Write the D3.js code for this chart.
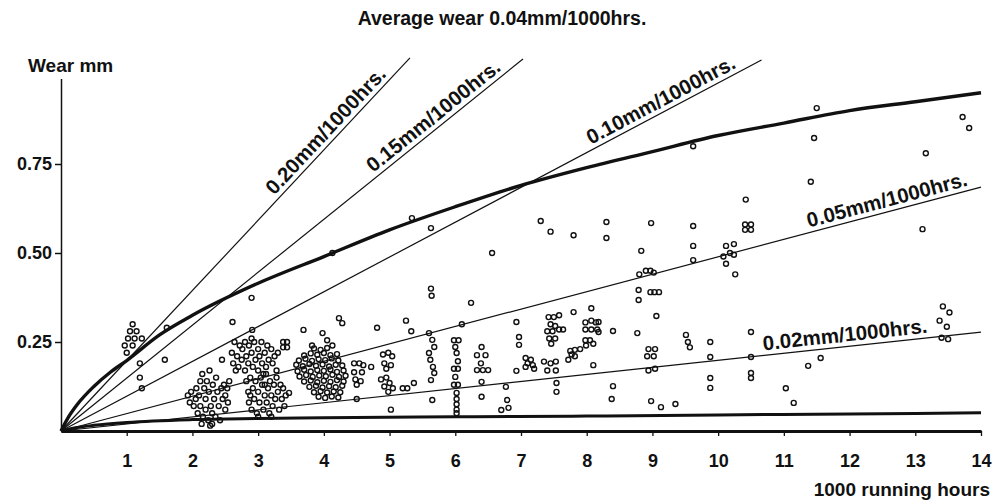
<!DOCTYPE html>
<html><head><meta charset="utf-8">
<script src="https://cdn.jsdelivr.net/npm/d3@7"></script>
<style>
html,body{margin:0;padding:0;background:#fff;}
text{font-family:"Liberation Sans",Arial,Helvetica,sans-serif;font-weight:bold;fill:#111;}
</style></head>
<body>
<script>
// ---------- data ----------
const titleText = "Average wear 0.04mm/1000hrs.";
const yAxisTitle = "Wear mm";
const xAxisTitle = "1000 running hours";
const xTicks = [1,2,3,4,5,6,7,8,9,10,11,12,13,14];
const yTicks = [0.25, 0.50, 0.75];
const yTickLabels = ["0.25", "0.50", "0.75"];

// reference wear-rate lines (from origin)
const rateLabels = ["0.20mm/1000hrs.","0.15mm/1000hrs.","0.10mm/1000hrs.","0.05mm/1000hrs.","0.02mm/1000hrs."];
const rateEndHours = [5.31, 7.03, 10.66, 14, 14];
const rateEndWear  = [1.048, 1.045, 1.042, 0.685, 0.278];
const rateLabelStartHours = [3.3, 4.8, 8.1, 11.4, 10.7];

// upper envelope (thick curve)
const upperHours = [0, 0.1, 0.25, 0.5, 0.75, 1, 1.5, 2, 3, 4, 5, 6, 7, 8, 9, 10, 11, 12, 13, 14];
const upperWear  = [0, 0.035, 0.075, 0.125, 0.165, 0.198, 0.27, 0.325, 0.415, 0.49, 0.565, 0.63, 0.69, 0.74, 0.785, 0.83, 0.865, 0.9, 0.925, 0.95];
// lower envelope (thick curve)
const lowerHours = [0, 0.25, 0.5, 1, 2, 3, 4, 6, 8, 10, 12, 14];
const lowerWear  = [0, 0.01, 0.016, 0.024, 0.032, 0.035, 0.037, 0.04, 0.042, 0.045, 0.048, 0.051];

// observed wear: [1000 running hours, wear mm]
const obsNear1000 = [[0.97,0.24],[1.09,0.30],[1.15,0.28],[1.23,0.26],[1.00,0.22],[1.12,0.26],[1.05,0.28],
  [1.20,0.19],[1.20,0.15],[1.23,0.12],[1.58,0.20],[1.61,0.29],[1.09,0.24],[1.02,0.26]];
const obsNear2000 = [[1.93,0.10],[1.96,0.08],[1.98,0.11],[2.02,0.07],[2.05,0.09],[2.06,0.12],[2.08,0.05],[2.1,0.10],
  [2.12,0.14],[2.12,0.07],[2.15,0.16],[2.16,0.04],[2.18,0.12],[2.2,0.09],[2.2,0.06],[2.22,0.14],[2.24,0.03],[2.25,0.11],
  [2.26,0.17],[2.28,0.07],[2.3,0.02],[2.3,0.05],[2.31,0.13],[2.33,0.09],[2.35,0.04],[2.36,0.15],[2.38,0.11],[2.4,0.07],
  [2.42,0.03],[2.44,0.12],[2.46,0.09],[2.48,0.13],[2.5,0.06],[2.5,0.10],[2.53,0.12],[2.54,0.08],[2.56,0.14],[2.45,0.20],
  [2.14,0.02],[2.27,0.015],[2.61,0.306],[2.9,0.374],[2.91,0.284]];
const obsNear3000 = [[2.6,0.22],[2.62,0.19],[2.64,0.25],[2.68,0.21],[2.7,0.18],[2.72,0.24],[2.75,0.20],[2.76,0.23],
  [2.8,0.17],[2.8,0.25],[2.82,0.21],[2.85,0.19],[2.86,0.24],[2.9,0.22],[2.92,0.18],[2.94,0.25],[2.96,0.20],[3.0,0.23],
  [3.0,0.17],[3.02,0.21],[3.05,0.25],[3.06,0.19],[3.1,0.22],[3.12,0.18],[3.14,0.24],[3.16,0.20],[3.2,0.23],[3.22,0.19],
  [3.25,0.21],[3.28,0.17],[2.66,0.17],[2.9,0.26],[3.08,0.16],[3.3,0.22],[3.38,0.25],[3.44,0.25],[3.38,0.235],[3.44,0.235],
  [2.82,0.14],[2.85,0.11],[2.86,0.08],[2.88,0.15],[2.9,0.06],[2.92,0.12],[2.94,0.09],[2.96,0.14],[2.98,0.05],[3.0,0.11],
  [3.02,0.08],[3.04,0.15],[3.06,0.13],[3.08,0.06],[3.1,0.10],[3.12,0.16],[3.13,0.08],[3.15,0.12],[3.17,0.05],[3.18,0.14],
  [3.2,0.10],[3.22,0.07],[3.24,0.13],[3.26,0.09],[3.28,0.15],[3.3,0.11],[3.32,0.06],[3.34,0.13],[3.36,0.09],[3.38,0.12],
  [3.4,0.07],[3.42,0.10],[3.0,0.04],[3.2,0.04],[2.88,0.10],[3.1,0.13],[3.47,0.107]];
const obsNear4000 = [[3.85,0.232],[3.95,0.228],[4.05,0.233],
  [3.7,0.212],[3.8,0.218],[3.9,0.214],[4.0,0.219],[4.1,0.213],[4.2,0.216],
  [3.62,0.198],[3.72,0.203],[3.82,0.197],[3.92,0.202],[4.02,0.199],[4.12,0.204],[4.22,0.198],
  [3.58,0.186],[3.68,0.182],[3.78,0.188],[3.88,0.183],[3.98,0.187],[4.08,0.181],[4.18,0.186],[4.28,0.184],
  [3.6,0.168],[3.7,0.172],[3.8,0.167],[3.9,0.171],[4.0,0.169],[4.1,0.173],[4.2,0.166],[4.3,0.17],
  [3.63,0.153],[3.73,0.157],[3.83,0.152],[3.93,0.156],[4.03,0.154],[4.13,0.158],[4.23,0.152],[4.33,0.155],
  [3.7,0.139],[3.8,0.142],[3.9,0.137],[4.0,0.141],[4.1,0.138],[4.2,0.143],[4.3,0.139],
  [3.78,0.124],[3.88,0.127],[3.98,0.122],[4.08,0.126],[4.18,0.123],[4.28,0.127],
  [3.85,0.109],[3.95,0.112],[4.05,0.108],[4.15,0.111],[4.25,0.109],
  [3.92,0.096],[4.02,0.093],[4.12,0.097],[4.22,0.094],
  [3.69,0.284],[3.82,0.24],[3.98,0.275],[4.05,0.255],[4.13,0.24],[4.23,0.317],[4.28,0.303],[4.13,0.50]];
const obsNear5000 = [[4.46,0.19],[4.54,0.19],[4.6,0.185],[4.46,0.165],[4.58,0.165],[4.48,0.145],[4.56,0.14],[4.5,0.13],
  [4.72,0.18],[4.9,0.215],[4.98,0.22],[5.04,0.21],[4.92,0.19],[5.02,0.185],[4.95,0.175],
  [4.87,0.145],[4.95,0.15],[5.0,0.135],[4.92,0.125],[5.05,0.12],[4.98,0.11],
  [5.2,0.12],[5.27,0.12],[5.37,0.135],[5.02,0.06],[4.5,0.09],[4.81,0.29],[5.25,0.31],[5.33,0.28],[5.34,0.598]];
const obsNear6000 = [[5.63,0.57],[5.63,0.40],[5.64,0.38],[5.6,0.275],[5.65,0.256],[5.68,0.236],[5.6,0.219],[5.62,0.2],
  [5.66,0.18],[5.68,0.163],[5.63,0.143],[5.65,0.087],
  [5.98,0.255],[6.05,0.255],[6.0,0.236],[6.02,0.219],[6.04,0.196],[5.98,0.175],[6.04,0.175],[6.0,0.152],[5.98,0.13],
  [6.04,0.13],[6.02,0.107],[6.02,0.09],[6.02,0.075],[6.02,0.06],[6.02,0.05],[6.1,0.30],[6.24,0.36],
  [6.4,0.236],[6.33,0.213],[6.46,0.213],[6.39,0.19],[6.33,0.171],[6.42,0.171],[6.5,0.171],[6.4,0.138],[6.4,0.096],
  [6.56,0.50],[6.93,0.306],[6.97,0.264],[6.97,0.242],[6.93,0.169],[6.77,0.124],[6.79,0.087],[6.7,0.059],[6.81,0.065]];
const obsNear7000 = [[7.07,0.205],[7.15,0.2],[7.1,0.19],[7.18,0.185],[7.07,0.18],[7.2,0.175],
  [7.35,0.195],[7.45,0.19],[7.4,0.17],[7.53,0.195],[7.53,0.17],[7.54,0.135],[7.54,0.11],
  [7.42,0.32],[7.5,0.32],[7.58,0.325],[7.45,0.30],[7.52,0.295],[7.4,0.28],[7.48,0.28],[7.58,0.285],[7.43,0.26],
  [7.52,0.26],[7.64,0.285],[7.46,0.245],[7.3,0.59],[7.45,0.56],[7.8,0.55],[7.8,0.334],[8.07,0.345],
  [7.98,0.305],[8.07,0.31],[8.14,0.305],[7.98,0.285],[8.07,0.285],[8.16,0.285],
  [7.98,0.255],[8.05,0.255],[8.1,0.245],[7.99,0.24],[7.9,0.23],[7.82,0.228],[7.75,0.225],[7.82,0.21],[7.77,0.215],
  [7.72,0.2],[8.1,0.185]];
const obsNear9000 = [[8.18,0.306],[8.18,0.278],[8.4,0.281],[8.3,0.587],[8.3,0.542],[8.4,0.126],[8.38,0.09],
  [8.98,0.584],[8.83,0.506],[8.8,0.44],[8.9,0.45],[8.97,0.45],[9.02,0.445],[8.79,0.396],[8.79,0.368],[8.97,0.39],
  [9.03,0.39],[9.1,0.39],[9.06,0.323],[8.77,0.275],[8.94,0.23],[9.04,0.23],[8.92,0.21],[9.02,0.21],[8.94,0.17],
  [9.04,0.175],[8.98,0.084],[9.13,0.067],[9.35,0.076],
  [9.62,0.80],[9.62,0.576],[9.62,0.52],[9.62,0.48],[9.51,0.27],[9.54,0.25],[9.57,0.235],
  [9.88,0.25],[9.88,0.208],[9.88,0.149],[9.88,0.121]];
const obsLate = [[10.12,0.52],[10.24,0.525],[10.08,0.49],[10.18,0.5],[10.24,0.495],[10.12,0.47],[10.26,0.44],
  [10.42,0.65],[10.41,0.58],[10.5,0.58],[10.41,0.565],[10.5,0.565],
  [10.5,0.278],[10.5,0.208],[10.5,0.163],[10.5,0.149],
  [11.03,0.12],[11.15,0.079],[11.37,0.183],[11.56,0.205],[11.5,0.907],[11.46,0.823],[11.41,0.70],
  [13.16,0.78],[13.11,0.567],[13.72,0.882],[13.82,0.851],
  [13.42,0.35],[13.52,0.333],[13.37,0.31],[13.48,0.293],[13.4,0.262],[13.5,0.258]];

// ---------- drawing ----------
const W = 996, H = 504;
const svg = d3.select("body").append("svg").attr("width", W).attr("height", H);
const x = d3.scaleLinear().domain([0, 14]).range([61, 981]);
const y = d3.scaleLinear().domain([0, 1]).range([431, 75]);
const ink = "#111";

// title & axis titles
svg.append("text").attr("x", 502).attr("y", 25).attr("text-anchor", "middle")
  .style("font-size", "19.5px").text(titleText);
svg.append("text").attr("x", 28).attr("y", 72).attr("text-anchor", "start")
  .style("font-size", "19px").text(yAxisTitle);
svg.append("text").attr("x", 990).attr("y", 496).attr("text-anchor", "end")
  .style("font-size", "19px").text(xAxisTitle);

// y axis
const yAxisScale = y.copy().domain([0, 0.99]).range([y(0), y(0.99)]);
const gy = svg.append("g").attr("transform", `translate(${x(0)},0)`)
  .call(d3.axisLeft(yAxisScale).tickValues(yTicks).tickSize(6).tickSizeOuter(0).tickPadding(3)
    .tickFormat((d, i) => yTickLabels[i]));
gy.select(".domain").attr("stroke", ink).attr("stroke-width", 1.5);
gy.selectAll(".tick line").attr("stroke", ink).attr("stroke-width", 1.5);
gy.selectAll(".tick text").style("font-size", "18px").attr("fill", ink)
  .attr("font-family", null);

// x axis
const gx = svg.append("g").attr("transform", `translate(0,${y(0)})`)
  .call(d3.axisBottom(x).tickValues(xTicks).tickSize(5).tickSizeOuter(0).tickPadding(18)
    .tickFormat(d3.format("d")));
gx.select(".domain").attr("stroke", ink).attr("stroke-width", 3);
gx.selectAll(".tick line").attr("stroke", ink).attr("stroke-width", 1.3);
gx.selectAll(".tick text").style("font-size", "18px").attr("fill", ink)
  .attr("font-family", null);

// rate lines
const plot = svg.append("g");
rateLabels.forEach((lab, i) => {
  const x0 = x(0), y0 = y(0), x1 = x(rateEndHours[i]), y1 = y(rateEndWear[i]);
  plot.append("line").attr("x1", x0).attr("y1", y0).attr("x2", x1).attr("y2", y1)
    .attr("stroke", ink).attr("stroke-width", 1.2);
  const hs = rateLabelStartHours[i];
  const ws = rateEndWear[i] * hs / rateEndHours[i];
  const ang = Math.atan2(y1 - y0, x1 - x0) * 180 / Math.PI;
  plot.append("text")
    .attr("transform", `translate(${x(hs)},${y(ws)}) rotate(${ang})`)
    .attr("dy", -5).style("font-size", "20.5px").text(lab);
});

// envelope curves
const lineGen = d3.line().x(d => x(d[0])).y(d => y(d[1])).curve(d3.curveMonotoneX);
plot.append("path").datum(upperHours.map((h, i) => [h, upperWear[i]]))
  .attr("d", lineGen).attr("fill", "none").attr("stroke", ink).attr("stroke-width", 3.4);
plot.append("path").datum(lowerHours.map((h, i) => [h, lowerWear[i]]))
  .attr("d", lineGen).attr("fill", "none").attr("stroke", ink).attr("stroke-width", 3);

// observations
const obs = [].concat(obsNear1000, obsNear2000, obsNear3000, obsNear4000, obsNear5000,
  obsNear6000, obsNear7000, obsNear9000, obsLate);
plot.append("g").selectAll("circle").data(obs).join("circle")
  .attr("cx", d => x(d[0])).attr("cy", d => y(d[1])).attr("r", 2.5)
  .attr("fill", "none").attr("stroke", ink).attr("stroke-width", 1.4);
</script>
</body></html>
